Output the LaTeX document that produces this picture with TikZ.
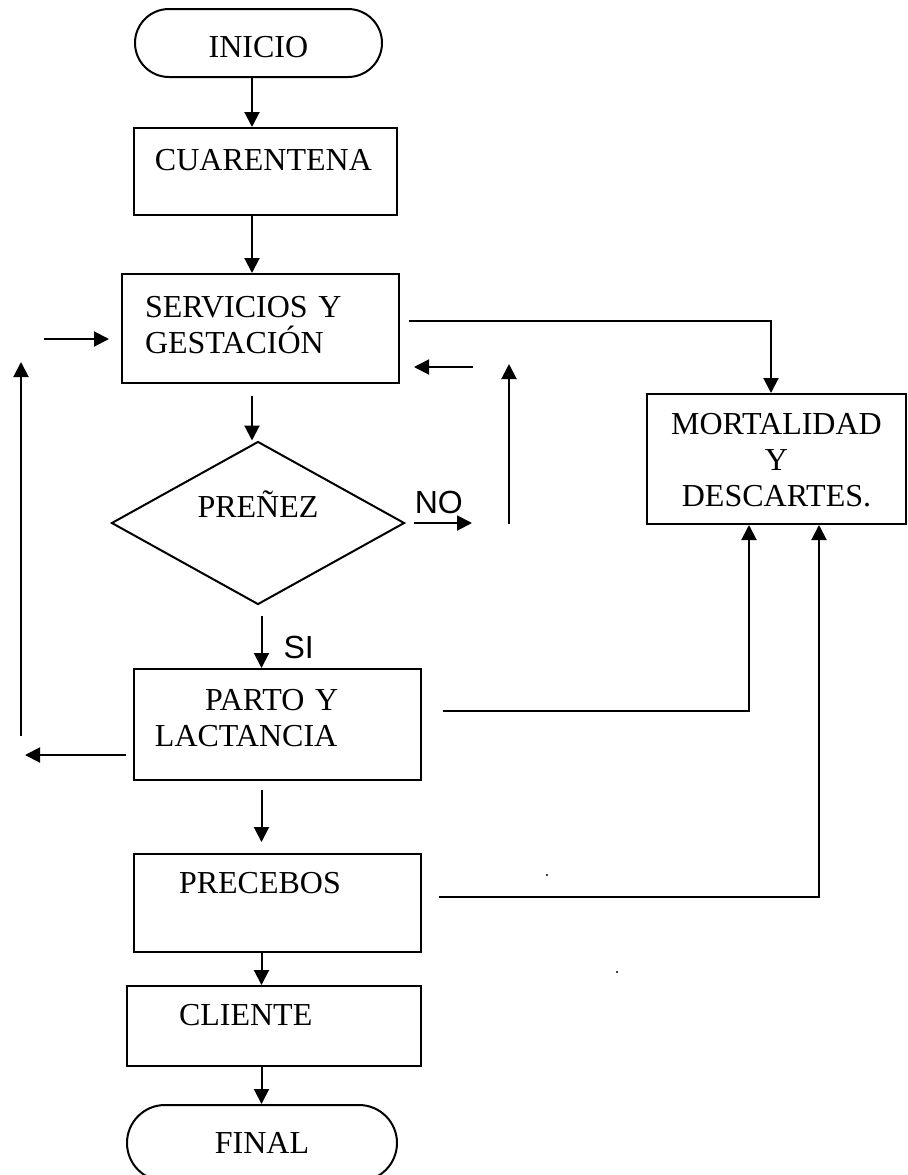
\documentclass[tikz,border=0pt]{standalone}
\usepackage{fontspec}
\setmainfont{Liberation Serif}
\setsansfont{Liberation Sans}
\usetikzlibrary{arrows.meta,shapes.geometric}

\begin{document}
\begin{tikzpicture}[
  x=0.5pt, y=-0.5pt,
  font=\fontsize{16}{18}\selectfont,
  box/.style={draw, line width=1pt, align=left, inner ysep=0pt, text height=10.5pt},
  term/.style={draw, line width=1pt, align=center, text height=10.5pt, text depth=0pt},
  cond/.style={draw, line width=1pt, diamond, aspect=1.8, inner sep=0pt, text height=10.5pt},
  arr/.style={line width=1pt, -{Triangle[length=7.5pt,width=7.5pt]}},
  lbl/.style={font=\fontsize{16}{18}\sffamily, inner sep=0pt}]
\useasboundingbox (0,0) rectangle (907,1175);
% main column
\node[term, minimum width=123.5pt, minimum height=34pt, rounded corners=17pt,
      text height=15pt, text depth=0.5pt] (inicio) at (258.5,43) {INICIO};
\node[box, inner xsep=10.5pt, text width=110.5pt, minimum height=43.5pt,
      text depth=11.4pt] (cuarentena) at (265.5,171.5) {CUARENTENA};
\node[box, inner xsep=11.5pt, text width=115.5pt, minimum height=54.5pt,
      text depth=21.4pt] (servicios) at (260.5,328.5) {SERVICIOS Y\\GESTACIÓN};
\node[cond, minimum width=146.5pt, minimum height=81.5pt,
      text depth=15.9pt] (prenez) at (258,523) {PREÑEZ};
\node[box, inner xsep=10.5pt, text width=122.5pt, minimum height=55.5pt,
      text depth=24.4pt] (parto) at (277.5,724.5) {\hspace*{25pt}PARTO Y\\LACTANCIA};
\node[box, inner xsep=22.5pt, text width=98.5pt, minimum height=49pt,
      text depth=19.9pt] (precebos) at (277.5,903) {PRECEBOS};
\node[box, inner xsep=26pt, text width=95pt, minimum height=40pt,
      text depth=10.9pt] (cliente) at (274,1026) {CLIENTE};
\node[term, minimum width=135pt, minimum height=38pt, rounded corners=19pt]
      (final) at (262,1143) {FINAL};
% side box
\node[box, align=center, inner xsep=5pt, text width=119.5pt, minimum height=65pt,
      text depth=34.9pt] (mortalidad) at (776.5,459) {MORTALIDAD\\Y\\DESCARTES.};

% spine and loose ends
\coordinate (sp1) at (252,0);
\coordinate (sp2) at (261.5,0);
\coordinate (inL) at (44,339);
\coordinate (inR) at (473,367);
\coordinate (retB) at (21,736);
\coordinate (retT) at (21,362);
\coordinate (outL) at (25,755);
\coordinate (upB) at (509,524);
\coordinate (upT) at (509,364);
\coordinate (noE) at (472,523);

\draw[arr] (sp1 |- inicio.south) -- (sp1 |- cuarentena.north);
\draw[arr] (sp1 |- cuarentena.south) -- (sp1 |- servicios.north);
\draw[arr, shorten <=6pt] (sp1 |- servicios.south) -- (sp1 |- prenez.north);
\draw[arr, shorten <=5pt] (sp2 |- prenez.south) --
  node[lbl, right=10.5pt, yshift=-5.5pt] (si) {SI} (sp2 |- parto.north);
\draw[arr, shorten <=4.5pt, shorten >=5.5pt] (sp2 |- parto.south) -- (sp2 |- precebos.north);
\draw[arr] (sp2 |- precebos.south) -- (sp2 |- cliente.north);
\draw[arr] (sp2 |- cliente.south) -- (sp2 |- final.north);

% to mortalidad
\draw[arr] ([xshift=4.5pt, yshift=3.75pt]servicios.east) -| ([xshift=-2.75pt]mortalidad.north);
\draw[arr] ([xshift=10.5pt, yshift=6.75pt]parto.east) -| ([xshift=-13.75pt]mortalidad.south);
\draw[arr] ([xshift=8.5pt, yshift=3pt]precebos.east) -| ([xshift=21.25pt]mortalidad.south);

% returns
\draw[arr, shorten >=6pt] (inL) -- (inL -| servicios.west);
\draw[arr, shorten >=7pt] (inR) -- (inR -| servicios.east);
\draw[arr] (retB) -- (retT);
\draw[arr, shorten <=3.5pt] (outL -| parto.west) -- (outL);
\draw[arr] (upB) -- (upT);
\draw[arr, shorten <=4pt] (prenez.east) --
  node[lbl, above, yshift=4.25pt] (no) {NO} (noE);

\fill (547,875) circle (0.6pt);
\fill (617,972) circle (0.6pt);
\end{tikzpicture}
\end{document}
